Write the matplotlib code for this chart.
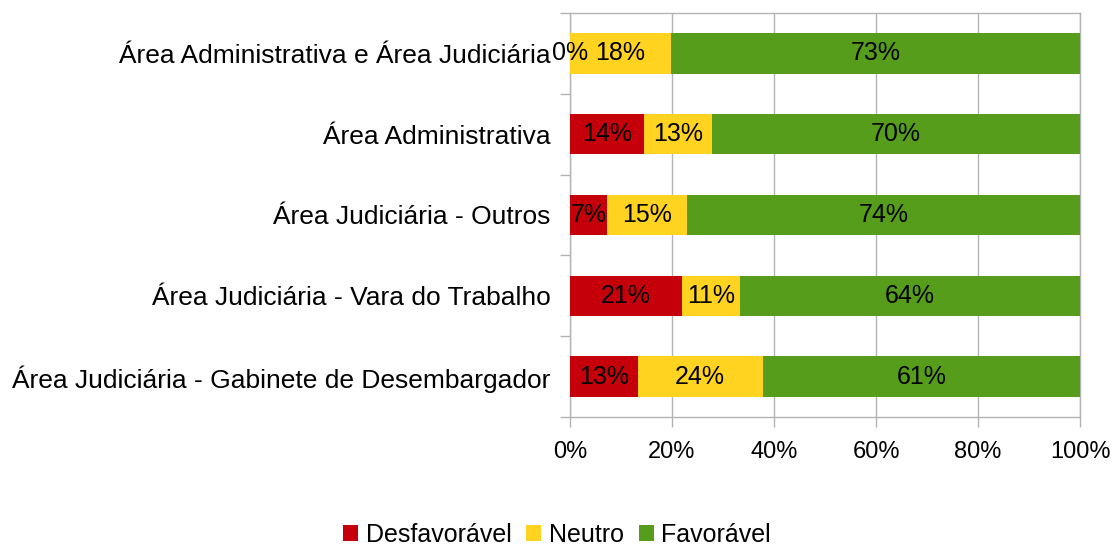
import numpy as np
import matplotlib.pyplot as plt
from matplotlib.patches import Patch

plt.rcParams['font.family'] = ['Liberation Sans', 'DejaVu Sans']

categorias = [
    "Área Administrativa e Área Judiciária",
    "Área Administrativa",
    "Área Judiciária - Outros",
    "Área Judiciária - Vara do Trabalho",
    "Área Judiciária - Gabinete de Desembargador",
]
desfavoravel = [0, 14, 7, 21, 13]
neutro = [18, 13, 15, 11, 24]
favoravel = [73, 70, 74, 64, 61]

series = [("Desfavorável", desfavoravel, "#c5000b"),
          ("Neutro", neutro, "#ffd320"),
          ("Favorável", favoravel, "#579d1c")]

grid_cor = "#b3b3b3"

fig = plt.figure(figsize=(11.15, 5.47), dpi=100)
ax = fig.add_axes([570 / 1115, 1 - 417 / 547, 510 / 1115, 404 / 547])

total = np.array(desfavoravel) + np.array(neutro) + np.array(favoravel)
y = np.arange(len(categorias))
esq = np.zeros(len(categorias))
for nome, vals, cor in series:
    frac = np.array(vals) / total
    ax.barh(y, frac, left=esq, height=0.5, color=cor, zorder=3)
    for yi, l, f, v in zip(y, esq, frac, vals):
        ax.text(l + f / 2, yi, f"{v}%", ha="center", va="center",
                fontsize=18, color="black", zorder=4)
    esq += frac

ax.set_xlim(0, 1)
ax.set_ylim(len(categorias) - 0.5, -0.5)
ax.set_xticks(np.linspace(0, 1, 6))
ax.set_xticklabels([f"{int(t)}%" for t in np.linspace(0, 100, 6)], fontsize=17)
ax.set_yticks(y)
ax.set_yticklabels(categorias, fontsize=19)
ax.set_yticks(np.arange(-0.5, len(categorias), 1), minor=True)
ax.tick_params(axis="y", which="major", length=0, pad=14)
ax.tick_params(axis="y", which="minor", length=7, color=grid_cor, width=1)
ax.tick_params(axis="x", length=7, color=grid_cor, width=1, pad=10)
ax.grid(axis="x", color=grid_cor, linewidth=1, zorder=0)
for s in ax.spines.values():
    s.set_color(grid_cor)
    s.set_linewidth(1)

handles = [Patch(facecolor=c, label=n) for n, _, c in series]
fig.legend(handles=handles, loc="center", bbox_to_anchor=(557 / 1115, 1 - 535 / 547),
           ncol=3, frameon=False, fontsize=18, handlelength=0.6, handleheight=0.6,
           handletextpad=0.3, columnspacing=0.6)

fig.savefig("out.png", dpi=100)
